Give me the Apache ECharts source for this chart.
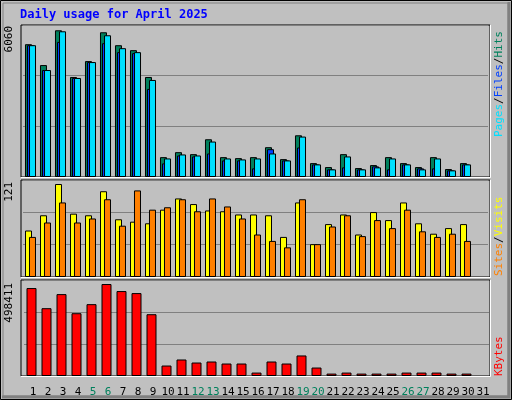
<!DOCTYPE html>
<html><head><meta charset="utf-8">
<script src="https://cdn.jsdelivr.net/npm/echarts@6/dist/echarts.min.js"></script>
<style>html,body{margin:0;padding:0;background:#c0c0c0}#main{width:512px;height:400px}</style>
</head><body><div id="main"></div>
<script>
const days = ['1','2','3','4','5','6','7','8','9','10','11','12','13','14','15','16','17','18','19','20','21','22','23','24','25','26','27','28','29','30','31']
const weekends = ['5','6','12','13','19','20','26','27']
const hits = [5295,4463,5849,3988,4621,5770,5255,5057,3988,792,990,911,1505,792,752,792,1188,713,1663,554,396,911,356,475,792,554,396,792,317,554,null]
const files = [5255,4265,5386,3948,4582,5334,4978,4938,3512,542,859,820,938,661,661,344,1109,661,1176,503,305,384,305,424,305,503,344,344,265,503,null]
const pages = [5255,4265,5809,3948,4582,5651,5136,4978,3869,740,899,859,1414,740,701,740,938,661,1612,503,305,820,305,384,740,503,305,740,265,503,null]
const sites = [58,77,116,79,77,107,72,69,67,84,98,91,83,82,78,78,77,50,93,41,66,78,53,81,71,93,67,54,61,66,null]
const visits = [50,68,93,68,73,97,64,108,84,87,97,82,98,88,73,53,45,37,97,41,63,77,51,71,61,84,57,50,54,45,null]
const kbytes = [456600,352000,425200,326000,373000,477500,441000,430500,320800,54300,85700,70000,75200,64800,64800,17800,75200,64800,106600,43900,12500,17800,12500,12500,12500,17800,17800,17800,12500,12500,null]
const maxHits = 6060, maxVisits = 121, maxKb = 498411

let chart = echarts.init(document.getElementById('main'))
const font = 'DejaVu Sans Mono'
const barStyle = c => ({ color: c, borderColor: '#000', borderWidth: 1 })
const hidX = gi => ({ type: 'category', data: days, gridIndex: gi, show: false })
const yAx = (gi, max) => ({
  type: 'value', gridIndex: gi, min: 0, max: max, interval: max / 3,
  axisLabel: { show: false }, axisLine: { show: false }, axisTick: { show: false },
  splitLine: { lineStyle: { color: '#808080', width: 1 } }
})
function panel (y, h) {
  return [
    { type: 'rect', shape: { x: 21, y: y, width: 469, height: h }, style: { fill: 'none', stroke: '#000', lineWidth: 1 }, z: 0 },
    { type: 'polyline', shape: { points: [[490.5, y], [490.5, y + h + 0.5], [21, y + h + 0.5]] }, style: { stroke: '#fff', lineWidth: 1, fill: null }, z: 10 }
  ]
}
function vtext (x, y, rich, text) {
  return { type: 'text', x: x, y: y, rotation: Math.PI / 2, style: { text: text, rich: rich, font: '11px ' + font, textAlign: 'right', textVerticalAlign: 'middle' }, z: 20 }
}

option = {
  backgroundColor: '#c0c0c0',
  animation: false,
  textStyle: { fontFamily: font },
  grid: [
    { left: 23, width: 465, top: 25, height: 152 },
    { left: 23, width: 465, top: 180, height: 97 },
    { left: 24, width: 465, top: 280, height: 96 },
    { left: 25.5, width: 465, top: 377, height: 1 }
  ],
  xAxis: [hidX(0), hidX(1), hidX(2), {
    type: 'category', data: days, gridIndex: 3,
    axisLine: { show: false }, axisTick: { show: false },
    axisLabel: { interval: 0, margin: 9, fontFamily: font, fontSize: 11,
      color: v => weekends.includes(v) ? '#00805c' : '#000' }
  }],
  yAxis: [yAx(0, maxHits), yAx(1, maxVisits), yAx(2, maxKb),
    { type: 'value', gridIndex: 3, show: false }],
  series: [
    { type: 'bar', data: hits, xAxisIndex: 0, yAxisIndex: 0, barWidth: 7, barGap: '-71%', itemStyle: barStyle('#00805c') },
    { type: 'bar', data: files, xAxisIndex: 0, yAxisIndex: 0, barWidth: 7, barGap: '-71%', itemStyle: barStyle('#0040ff') },
    { type: 'bar', data: pages, xAxisIndex: 0, yAxisIndex: 0, barWidth: 7, barGap: '-71%', itemStyle: barStyle('#00e0ff') },
    { type: 'bar', data: sites, xAxisIndex: 1, yAxisIndex: 1, barWidth: 7, barGap: '-43%', itemStyle: barStyle('#ffff00') },
    { type: 'bar', data: visits, xAxisIndex: 1, yAxisIndex: 1, barWidth: 7, barGap: '-43%', itemStyle: barStyle('#ff8000') },
    { type: 'bar', data: kbytes, xAxisIndex: 2, yAxisIndex: 2, barWidth: 10, itemStyle: barStyle('#ff0000') }
  ],
  graphic: [
    { type: 'rect', shape: { x: 0.5, y: 0.5, width: 511, height: 399 }, style: { fill: 'none', stroke: '#000', lineWidth: 1 }, z: 0 },
    { type: 'polyline', shape: { points: [[3, 3], [508, 3], [508, 396], [3, 396], [3, 3]] }, style: { fill: 'none', stroke: '#808080', lineWidth: 1 }, z: 0 },
    { type: 'polyline', shape: { points: [[509, 2], [509, 397], [2, 397]] }, style: { fill: 'none', stroke: '#808080', lineWidth: 3 }, z: 0 },
    ...panel(25, 152), ...panel(180, 97), ...panel(280, 96),
    { type: 'text', x: 20, y: 9, style: { text: 'Daily usage for April 2025', font: 'bold 12px ' + font, fill: '#0000ff' }, z: 20 },
    { type: 'text', x: 9, y: 26, rotation: Math.PI / 2, style: { text: String(maxHits), font: '11px ' + font, fill: '#000', textAlign: 'right', textVerticalAlign: 'middle' }, z: 20 },
    { type: 'text', x: 9, y: 182, rotation: Math.PI / 2, style: { text: String(maxVisits), font: '11px ' + font, fill: '#000', textAlign: 'right', textVerticalAlign: 'middle' }, z: 20 },
    { type: 'text', x: 9, y: 283, rotation: Math.PI / 2, style: { text: String(maxKb), font: '11px ' + font, fill: '#000', textAlign: 'right', textVerticalAlign: 'middle' }, z: 20 },
    vtext(499, 28, { p: { fill: '#00e0ff' }, f: { fill: '#0040ff' }, h: { fill: '#00805c' } }, '{h|Hits}{f|}'),
    { type: 'text', x: 499, y: 137, rotation: Math.PI / 2,
      style: { text: '{p|Pages}{s|/}{f|Files}{s|/}{h|Hits}', font: '11px ' + font, textAlign: 'left', textVerticalAlign: 'middle',
        rich: { p: { fill: '#00e0ff', font: '11px ' + font }, f: { fill: '#0040ff', font: '11px ' + font }, h: { fill: '#00805c', font: '11px ' + font }, s: { fill: '#000', font: '11px ' + font } } }, z: 20 },
    { type: 'text', x: 499, y: 276, rotation: Math.PI / 2,
      style: { text: '{a|Sites}{s|/}{b|Visits}', font: '11px ' + font, textAlign: 'left', textVerticalAlign: 'middle',
        rich: { a: { fill: '#ff8000', font: '11px ' + font }, b: { fill: '#ffff00', font: '11px ' + font }, s: { fill: '#000', font: '11px ' + font } } }, z: 20 },
    { type: 'text', x: 499, y: 376, rotation: Math.PI / 2,
      style: { text: 'KBytes', font: '11px ' + font, fill: '#ff0000', textAlign: 'left', textVerticalAlign: 'middle' }, z: 20 }
  ]
}
option.graphic.splice(option.graphic.findIndex(g => g.style && g.style.text === '{h|Hits}{f|}'), 1)
chart.setOption(option)
</script>
</body></html>
